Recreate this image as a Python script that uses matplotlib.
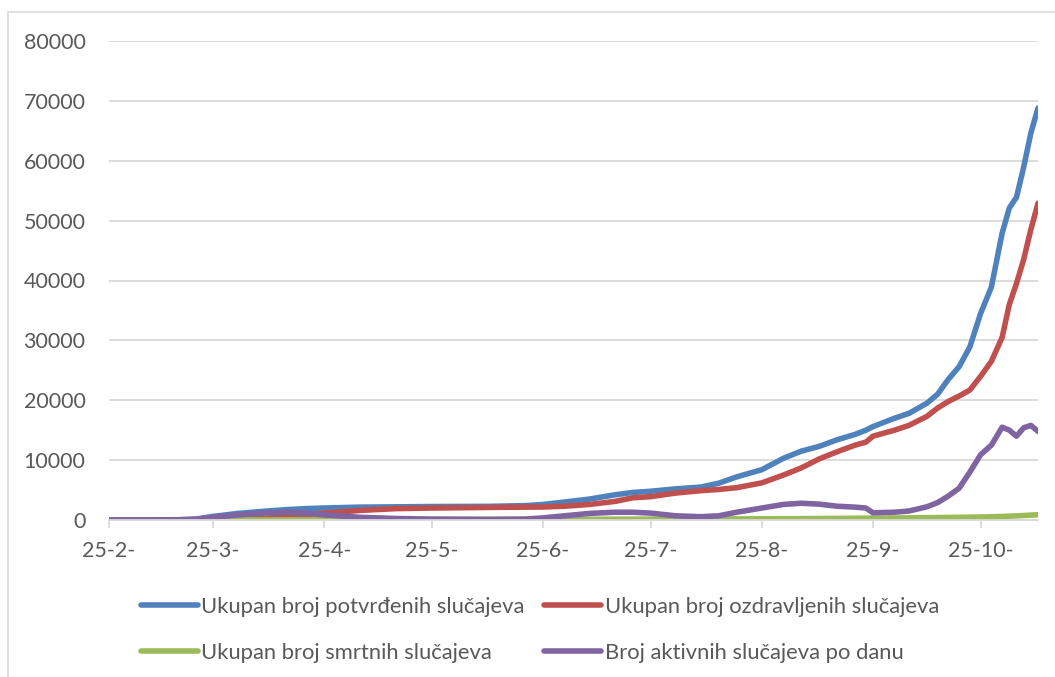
import datetime as dt
import matplotlib
matplotlib.use('Agg')
import matplotlib.pyplot as plt
import matplotlib.dates as mdates
from matplotlib.patches import Rectangle

plt.rcParams['font.family'] = ['Lato', 'DejaVu Sans']

datumi = ['2020-02-25', '2020-03-06', '2020-03-16', '2020-03-20', '2020-03-25',
          '2020-04-01', '2020-04-08', '2020-04-15', '2020-04-20', '2020-04-25',
          '2020-05-05', '2020-05-15', '2020-05-25', '2020-06-10', '2020-06-20',
          '2020-06-25', '2020-07-01', '2020-07-08', '2020-07-15', '2020-07-20',
          '2020-07-25', '2020-08-01', '2020-08-08', '2020-08-13', '2020-08-18',
          '2020-08-25', '2020-08-31', '2020-09-05', '2020-09-10', '2020-09-15',
          '2020-09-20', '2020-09-23', '2020-09-25', '2020-10-01', '2020-10-05',
          '2020-10-10', '2020-10-13', '2020-10-16', '2020-10-19', '2020-10-22',
          '2020-10-25', '2020-10-28', '2020-10-31', '2020-11-02', '2020-11-04',
          '2020-11-06', '2020-11-08', '2020-11-10']

potvrdeni = [0, 10, 50, 130, 600,
             1100, 1450, 1750, 1900, 2000,
             2150, 2200, 2250, 2280, 2400,
             2600, 3000, 3500, 4200, 4600,
             4800, 5200, 5500, 6150, 7200,
             8400, 10300, 11500, 12300, 13400,
             14300, 15000, 15600, 17000, 17800,
             19500, 21000, 23500, 25600, 28900,
             34500, 38900, 47900, 52100, 53900,
             58900, 64600, 68800]

ozdravljeni = [0, 0, 0, 0, 30,
               100, 250, 600, 850, 1150,
               1600, 1900, 2000, 2100, 2150,
               2170, 2300, 2600, 3100, 3700,
               3900, 4500, 4900, 5100, 5400,
               6200, 7500, 8700, 10200, 11400,
               12500, 13000, 14000, 15000, 15800,
               17300, 18700, 19800, 20700, 21700,
               24000, 26500, 30500, 36000, 39500,
               43500, 48500, 52900]

umrli = [0, 0, 0, 1, 3,
         10, 25, 40, 55, 70,
         90, 98, 100, 105, 106,
         107, 110, 120, 135, 145,
         150, 160, 170, 180, 190,
         200, 215, 230, 250, 270,
         290, 305, 320, 340, 360,
         390, 410, 430, 450, 470,
         500, 540, 590, 640, 690,
         750, 810, 880]

aktivni = [0, 10, 50, 130, 450,
           850, 1150, 1300, 1150, 850,
           450, 250, 150, 100, 150,
           350, 700, 1100, 1300, 1300,
           1150, 700, 550, 700, 1300,
           2000, 2600, 2800, 2650, 2300,
           2150, 2000, 1200, 1300, 1500,
           2200, 2900, 4000, 5300, 8000,
           10900, 12500, 15500, 15000, 14000,
           15400, 15800, 14800]

oznake = ['Ukupan broj potvrđenih slučajeva', 'Ukupan broj ozdravljenih slučajeva',
          'Ukupan broj smrtnih slučajeva', 'Broj aktivnih slučajeva po danu']

x = [dt.datetime.strptime(d, '%Y-%m-%d') for d in datumi]

fig = plt.figure(figsize=(10.55, 6.77), dpi=100)
fig.patches.append(Rectangle((8 / 1055, -0.1), 1.2, 1 - 12 / 677 + 0.1,
                             transform=fig.transFigure, fill=False,
                             edgecolor='#D9D9D9', lw=1.2))
ax = fig.add_axes([109 / 1055, 1 - 520 / 677, (1038 - 109) / 1055, (520 - 41) / 677])

lw = 4.0
l1, = ax.plot(x, potvrdeni, color='#4F81BD', lw=lw, solid_capstyle='round')
l2, = ax.plot(x, ozdravljeni, color='#C0504D', lw=lw, solid_capstyle='round')
l3, = ax.plot(x, umrli, color='#9BBB59', lw=lw, solid_capstyle='round')
l4, = ax.plot(x, aktivni, color='#8064A2', lw=lw, solid_capstyle='round')

ax.set_xlim(x[0], x[-1])
ax.set_ylim(0, 80000)
ax.set_yticks(range(0, 80001, 10000))
ax.grid(axis='y', color='#D9D9D9', lw=1.3)
ax.set_axisbelow(True)

ax.xaxis.set_major_locator(mdates.MonthLocator(bymonthday=25))
ax.xaxis.set_major_formatter(plt.FuncFormatter(
    lambda v, p: '{}-{}-'.format(mdates.num2date(v).day, mdates.num2date(v).month)))

for s in ['top', 'right', 'left']:
    ax.spines[s].set_visible(False)
ax.spines['bottom'].set_color('#D9D9D9')
ax.spines['bottom'].set_linewidth(1.3)

ax.tick_params(axis='y', length=0, pad=17, labelsize=15.5, labelcolor='#595959')
ax.tick_params(axis='x', length=6, width=1.3, color='#D9D9D9', pad=9,
               labelsize=15.5, labelcolor='#595959')

fig.legend([l1, l3, l2, l4], [oznake[0], oznake[2], oznake[1], oznake[3]],
           ncol=2, loc='center left', bbox_to_anchor=(121 / 1055, 1 - 630 / 677),
           frameon=False, fontsize=15.8, labelcolor='#595959',
           handlelength=2.6, handletextpad=0.15, columnspacing=0.9,
           labelspacing=1.2)

fig.savefig('out.png', dpi=100)
